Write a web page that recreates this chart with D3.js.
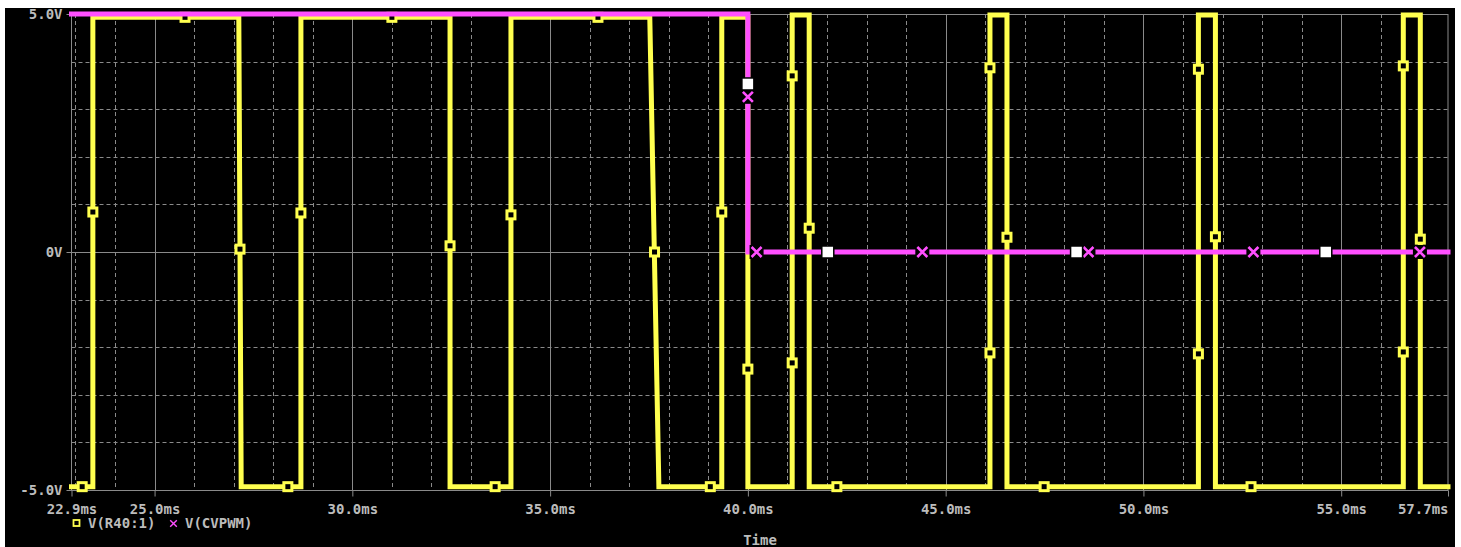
<!DOCTYPE html>
<html>
<head>
<meta charset="utf-8">
<script src="https://cdnjs.cloudflare.com/ajax/libs/d3/7.8.5/d3.min.js"></script>
<style>
  body { margin: 0; background: #fff; }
  svg { display: block; }
  text { font-family: "DejaVu Sans Mono", monospace; font-size: 14px; font-weight: bold; fill: #bcbcbc; }
  .grid-dash { stroke: #8a8a8a; stroke-width: 1; stroke-dasharray: 4,3; }
  .grid-solid { stroke: #8a8a8a; stroke-width: 1; }
</style>
</head>
<body>
<svg id="chart" width="1461" height="547"></svg>
<script>
// x axis ticks (ms) and y axis ticks (V)
const xTicks = [22.9, 25, 30, 35, 40, 45, 50, 55, 57.7];
const xTickLabels = ['22.9ms', '25.0ms', '30.0ms', '35.0ms', '40.0ms', '45.0ms', '50.0ms', '55.0ms', '57.7ms'];
const yTicks = [-5, 0, 5];
const yTickLabels = ['-5.0V', '0V', '5.0V'];

// V(R40:1) trace
const r40Time = [22.9, 23.44, 23.44, 27.13, 27.19, 28.70, 28.70, 32.47, 32.47, 34.01, 34.01,
  37.52, 37.75, 39.34, 39.34, 40.0, 40.0, 41.12, 41.12, 41.55, 41.55,
  46.12, 46.12, 46.55, 46.55, 51.39, 51.39, 51.82, 51.82, 56.57, 56.57, 57.0, 57.0, 57.7];
const r40Volt = [-4.93, -4.93, 4.93, 4.93, -4.93, -4.93, 4.93, 4.93, -4.93, -4.93, 4.93,
  4.93, -4.93, -4.93, 4.93, 4.93, -4.93, -4.93, 4.98, 4.98, -4.93,
  -4.93, 4.98, 4.98, -4.93, -4.93, 4.98, 4.98, -4.93, -4.93, 4.98, 4.98, -4.93, -4.93];
// V(R40:1) markers
const r40MarkTime = [23.17, 23.44, 25.77, 27.16, 28.37, 28.70, 31.0, 32.47, 33.61, 34.01, 36.21,
  37.64, 39.05, 39.34, 40.0, 41.12, 41.12, 41.55, 42.25, 46.12, 46.12, 46.55, 47.49,
  51.39, 51.39, 51.82, 52.72, 56.57, 56.57, 57.0];
const r40MarkVolt = [-4.93, 0.84, 4.93, 0.06, -4.93, 0.82, 4.93, 0.13, -4.93, 0.78, 4.93,
  0.0, -4.93, 0.84, -2.46, 3.70, -2.33, 0.50, -4.93, 3.87, -2.12, 0.31, -4.93,
  3.84, -2.14, 0.32, -4.93, 3.91, -2.10, 0.27];

// V(CVPWM) trace
const pwmTime = [22.9, 40.0, 40.0, 57.7];
const pwmVolt = [5, 5, 0, 0];
// V(CVPWM) markers
const pwmMarkTime = [40.0, 40.22, 44.41, 48.61, 52.78, 56.99];
const pwmMarkVolt = [3.26, 0, 0, 0, 0, 0];

// white square markers
const whiteMarkTime = [40.0, 42.02, 48.31, 54.61];
const whiteMarkVolt = [3.53, 0, 0, 0];

const yellow = '#ffff4f';
const magenta = '#ff4fff';

const svg = d3.select('#chart');

// black panel
svg.append('rect')
  .attr('x', 5).attr('y', 8)
  .attr('width', 1450).attr('height', 539)
  .attr('fill', '#000');

const xScale = d3.scaleLinear().domain([22.9, 57.7]).range([71.5, 1448]);
const yScale = d3.scaleLinear().domain([-5, 5]).range([490, 14]);

// grid lines
const grid = svg.append('g');
for (let t = 23; t <= 57; t++) {
  grid.append('line')
    .attr('class', t % 5 === 0 ? 'grid-solid' : 'grid-dash')
    .attr('x1', Math.round(xScale(t)) + 0.5).attr('x2', Math.round(xScale(t)) + 0.5)
    .attr('y1', yScale(5)).attr('y2', yScale(-5));
}
for (let v = -4; v <= 4; v++) {
  grid.append('line')
    .attr('class', v === 0 ? 'grid-solid' : 'grid-dash')
    .attr('x1', xScale(22.9)).attr('x2', xScale(57.7))
    .attr('y1', Math.round(yScale(v)) + 0.5).attr('y2', Math.round(yScale(v)) + 0.5);
}
// frame
svg.append('rect')
  .attr('x', xScale(22.9)).attr('y', yScale(5) + 0.5)
  .attr('width', xScale(57.7) - xScale(22.9))
  .attr('height', yScale(-5) - yScale(5))
  .attr('fill', 'none').attr('stroke', '#8a8a8a');

// axes
const xAxis = svg.append('g')
  .attr('transform', `translate(0, ${yScale(-5) + 0.5})`)
  .call(d3.axisBottom(xScale)
    .tickValues(xTicks)
    .tickSize(6)
    .tickPadding(8)
    .tickFormat((d, i) => xTickLabels[i]));
xAxis.select('.domain').remove();
xAxis.selectAll('line').attr('stroke', '#8a8a8a');
xAxis.selectAll('text').attr('font-family', null).attr('font-size', null).attr('fill', null);
xAxis.selectAll('.tick').filter((d) => d === 57.7).select('text').attr('text-anchor', 'end');

const yAxis = svg.append('g')
  .attr('transform', `translate(${xScale(22.9)}, 0)`)
  .call(d3.axisLeft(yScale)
    .tickValues(yTicks)
    .tickSize(5)
    .tickPadding(4)
    .tickFormat((d, i) => yTickLabels[i]));
yAxis.select('.domain').remove();
yAxis.selectAll('line').attr('stroke', '#8a8a8a');
yAxis.selectAll('text').attr('font-family', null).attr('font-size', null).attr('fill', null);

// traces
const line = d3.line()
  .x((d) => xScale(d[0]))
  .y((d) => yScale(d[1]));

svg.append('path')
  .datum(r40Time.map((t, i) => [t, r40Volt[i]]))
  .attr('d', line)
  .attr('fill', 'none')
  .attr('stroke', yellow)
  .attr('stroke-width', 5)
  .attr('stroke-linecap', 'square');

svg.selectAll('.r40-mark')
  .data(r40MarkTime.map((t, i) => [t, r40MarkVolt[i]]))
  .enter()
  .append('rect')
  .attr('class', 'r40-mark')
  .attr('x', (d) => xScale(d[0]) - 4)
  .attr('y', (d) => yScale(d[1]) - 4)
  .attr('width', 8).attr('height', 8)
  .attr('fill', '#000')
  .attr('stroke', yellow)
  .attr('stroke-width', 3);

svg.append('path')
  .datum(pwmTime.map((t, i) => [t, pwmVolt[i]]))
  .attr('d', line)
  .attr('fill', 'none')
  .attr('stroke', magenta)
  .attr('stroke-width', 5)
  .attr('stroke-linecap', 'square');

// x markers
const cross = (cx, cy, r) => `M${cx - r},${cy - r}L${cx + r},${cy + r}M${cx - r},${cy + r}L${cx + r},${cy - r}`;
svg.selectAll('.pwm-mark')
  .data(pwmMarkTime.map((t, i) => [t, pwmMarkVolt[i]]))
  .enter()
  .append('g')
  .attr('class', 'pwm-mark')
  .each(function (d) {
    const g = d3.select(this);
    const cx = xScale(d[0]), cy = yScale(d[1]);
    g.append('rect')
      .attr('x', cx - 7).attr('y', cy - 7).attr('width', 14).attr('height', 14)
      .attr('fill', '#000');
    g.append('path')
      .attr('d', cross(cx, cy, 5))
      .attr('stroke', magenta)
      .attr('stroke-width', 2.6);
  });

svg.selectAll('.white-mark')
  .data(whiteMarkTime.map((t, i) => [t, whiteMarkVolt[i]]))
  .enter()
  .append('rect')
  .attr('class', 'white-mark')
  .attr('x', (d) => xScale(d[0]) - 6)
  .attr('y', (d) => yScale(d[1]) - 6)
  .attr('width', 12).attr('height', 12)
  .attr('fill', '#fff')
  .attr('stroke', '#000')
  .attr('stroke-width', 1.5);

// legend
const legend = svg.append('g');
legend.append('rect')
  .attr('x', 73.5).attr('y', 520).attr('width', 6).attr('height', 6)
  .attr('fill', 'none').attr('stroke', yellow).attr('stroke-width', 1.8);
legend.append('text').attr('x', 88).attr('y', 528).text('V(R40:1)');
legend.append('path')
  .attr('d', cross(173.5, 523.5, 3.3))
  .attr('stroke', magenta).attr('stroke-width', 1.4);
legend.append('text').attr('x', 185).attr('y', 528).text('V(CVPWM)');

// axis title
svg.append('text')
  .attr('x', 760).attr('y', 545)
  .attr('text-anchor', 'middle')
  .text('Time');
</script>
</body>
</html>
